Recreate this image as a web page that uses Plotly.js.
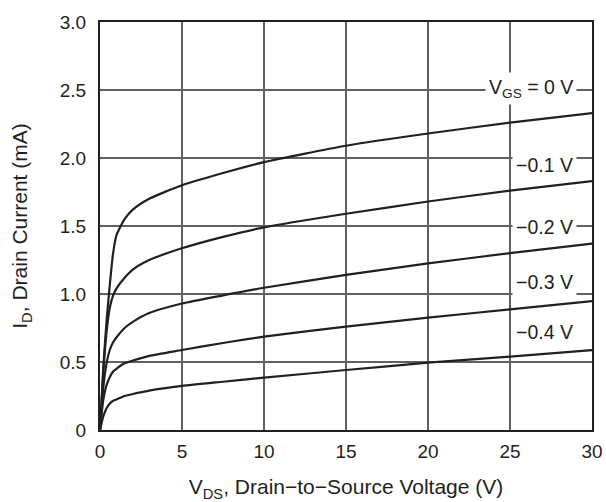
<!DOCTYPE html>
<html>
<head>
<meta charset="utf-8">
<script src="https://cdn.plot.ly/plotly-3.0.1.min.js"></script>
<style>html,body{margin:0;padding:0;background:#fff;}#chart{width:606px;height:502px;}</style>
</head>
<body>
<div id="chart"></div>
<script>
var vds = [0, 0.2, 0.4, 0.6, 0.8, 1, 1.5, 2, 3, 5, 7.5, 10, 15, 20, 25, 30];
var id_vgs0  = [0, 0.46, 0.80, 1.07, 1.30, 1.43, 1.55, 1.62, 1.70, 1.80, 1.89, 1.97, 2.09, 2.18, 2.26, 2.33];
var id_vgs01 = [0, 0.42, 0.72, 0.90, 0.99, 1.04, 1.12, 1.18, 1.25, 1.336, 1.42, 1.49, 1.59, 1.68, 1.76, 1.83];
var id_vgs02 = [0, 0.31, 0.49, 0.59, 0.645, 0.68, 0.75, 0.795, 0.86, 0.93, 0.99, 1.046, 1.14, 1.225, 1.30, 1.37];
var id_vgs03 = [0, 0.22, 0.33, 0.39, 0.43, 0.45, 0.49, 0.51, 0.545, 0.588, 0.64, 0.686, 0.76, 0.826, 0.887, 0.948];
var id_vgs04 = [0, 0.10, 0.16, 0.195, 0.215, 0.225, 0.25, 0.265, 0.29, 0.324, 0.355, 0.385, 0.441, 0.495, 0.539, 0.588];
var seriesNames = ['V<sub>GS</sub> = 0 V', '\u22120.1 V', '\u22120.2 V', '\u22120.3 V', '\u22120.4 V'];
var labelY = [2.51, 1.95, 1.49, 1.09, 0.72];
var xTickVals = [0, 5, 10, 15, 20, 25, 30];
var xTickText = ['0', '5', '10', '15', '20', '25', '30'];
var yTickVals = [0, 0.5, 1.0, 1.5, 2.0, 2.5, 3.0];
var yTickText = ['0', '0.5', '1.0', '1.5', '2.0', '2.5', '3.0'];

var allY = [id_vgs0, id_vgs01, id_vgs02, id_vgs03, id_vgs04];
var traces = allY.map(function (ys, i) {
  return {
    x: vds, y: ys, type: 'scatter', mode: 'lines', name: seriesNames[i],
    line: {color: '#231f20', width: 2.2, shape: 'spline', smoothing: 0.6},
    hoverinfo: 'skip'
  };
});

var fam = 'Liberation Sans, Arial, Helvetica, sans-serif';
var tickFont = {family: fam, size: 19, color: '#231f20'};
var titleFont = {family: fam, size: 21, color: '#231f20'};
var annFont = {family: fam, size: 19.5, color: '#231f20'};
var annotations = seriesNames.map(function (t, i) {
  return {
    x: 29.1, y: labelY[i], xref: 'x', yref: 'y', xanchor: 'right', yanchor: 'middle',
    text: t, showarrow: false, bgcolor: '#ffffff', borderpad: 3, font: annFont
  };
});

var layout = {
  width: 606, height: 502,
  margin: {l: 100, r: 14, t: 22, b: 72},
  paper_bgcolor: '#ffffff', plot_bgcolor: '#ffffff',
  showlegend: false,
  font: tickFont,
  xaxis: {
    range: [0, 30], tickvals: xTickVals, ticktext: xTickText, tickfont: tickFont,
    showgrid: true, gridcolor: '#5f6062', gridwidth: 1.2,
    showline: true, linecolor: '#231f20', linewidth: 2, mirror: true,
    zeroline: false, ticks: '', ticklabelstandoff: 3,
    title: {text: 'V<sub>DS</sub>, Drain\u2212to\u2212Source Voltage (V)', font: titleFont, standoff: 19}
  },
  yaxis: {
    range: [0, 3], tickvals: yTickVals, ticktext: yTickText, tickfont: tickFont,
    showgrid: true, gridcolor: '#5f6062', gridwidth: 1.2,
    showline: true, linecolor: '#231f20', linewidth: 2, mirror: true,
    zeroline: false, ticks: '', ticklabelstandoff: 8,
    title: {text: 'I<sub>D</sub>, Drain Current (mA)', font: titleFont, standoff: 26}
  },
  annotations: annotations
};

Plotly.newPlot('chart', traces, layout, {staticPlot: true, displayModeBar: false});
</script>
</body>
</html>
